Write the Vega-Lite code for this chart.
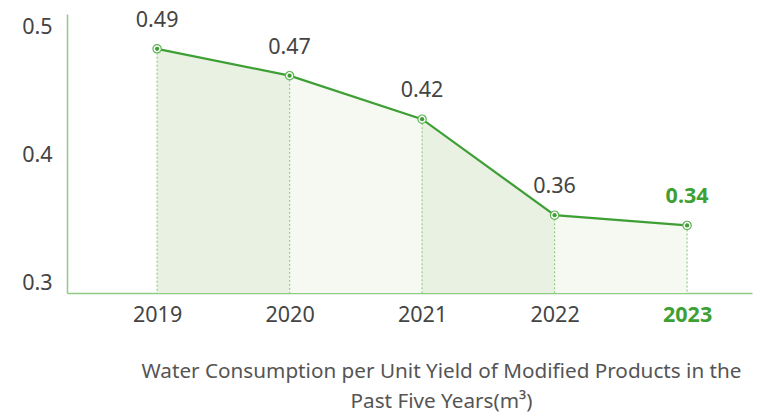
{
  "$schema": "https://vega.github.io/schema/vega-lite/v6.json",
  "width": 685,
  "height": 279,
  "autosize": "none",
  "padding": {"left": 67, "top": 14, "right": 15, "bottom": 124},
  "background": "white",
  "config": {"view": {"stroke": null}, "font": "Noto Sans"},
  "datasets": {
    "points": [
      {"year": 2019, "value": 0.483, "label": "0.49", "latest": "no"},
      {"year": 2020, "value": 0.462, "label": "0.47", "latest": "no"},
      {"year": 2021, "value": 0.428, "label": "0.42", "latest": "no"},
      {"year": 2022, "value": 0.353, "label": "0.36", "latest": "no"},
      {"year": 2023, "value": 0.345, "label": "0.34", "latest": "yes"}
    ],
    "segments": [
      {"seg": "a", "shade": "dark", "year": 2019, "value": 0.483},
      {"seg": "a", "shade": "dark", "year": 2020, "value": 0.462},
      {"seg": "b", "shade": "light", "year": 2020, "value": 0.462},
      {"seg": "b", "shade": "light", "year": 2021, "value": 0.428},
      {"seg": "c", "shade": "dark", "year": 2021, "value": 0.428},
      {"seg": "c", "shade": "dark", "year": 2022, "value": 0.353},
      {"seg": "d", "shade": "light", "year": 2022, "value": 0.353},
      {"seg": "d", "shade": "light", "year": 2023, "value": 0.345}
    ]
  },
  "layer": [
    {
      "data": {"name": "segments"},
      "mark": {"type": "area", "opacity": 1},
      "encoding": {
        "x": {"field": "year", "type": "quantitative"},
        "y": {"field": "value", "type": "quantitative"},
        "y2": {"datum": 0.2922},
        "detail": {"field": "seg"},
        "color": {"field": "shade", "type": "nominal", "scale": {"domain": ["dark", "light"], "range": ["#e9f1e2", "#f6f9f2"]}, "legend": null}
      }
    },
    {
      "data": {"name": "points"},
      "mark": {"type": "rule", "color": "#8fd083", "strokeDash": [2, 2], "strokeWidth": 1.2},
      "encoding": {
        "x": {"field": "year", "type": "quantitative"},
        "y": {"field": "value", "type": "quantitative"},
        "y2": {"datum": 0.2922}
      }
    },
    {
      "data": {"name": "points"},
      "mark": {"type": "line", "color": "#3d9f34", "strokeWidth": 2.2},
      "encoding": {
        "x": {
          "field": "year", "type": "quantitative",
          "scale": {"domain": [2018.32, 2023.49], "nice": false, "zero": false},
          "axis": {
            "values": [2019, 2020, 2021, 2022, 2023],
            "format": "d",
            "grid": false,
            "ticks": false,
            "domainColor": "#90cc84",
            "domainWidth": 1.5,
            "labelFontSize": 21.5,
            "labelColor": {"condition": {"test": "datum.value == 2023", "value": "#3d9f34"}, "value": "#444444"},
            "labelFontWeight": {"condition": {"test": "datum.value == 2023", "value": "bold"}, "value": "normal"},
            "labelPadding": 11,
            "title": ["Water Consumption per Unit Yield of Modified Products in the", "Past Five Years(m³)"],
            "titleFontSize": 20.7,
            "titleFontWeight": "normal",
            "titleColor": "#555555",
            "titleLineHeight": 30,
            "titleX": 374,
            "titleY": 68,
            "titleAlign": "center"
          }
        },
        "y": {
          "field": "value", "type": "quantitative",
          "scale": {"domain": [0.2922, 0.5102], "nice": false, "zero": false},
          "axis": {
            "values": [0.3, 0.4, 0.5],
            "format": ".1f",
            "grid": false,
            "ticks": false,
            "domainColor": "#90cc84",
            "domainWidth": 1.5,
            "labelFontSize": 21.5,
            "labelColor": "#444444",
            "labelPadding": 15,
            "title": null
          }
        }
      }
    },
    {
      "data": {"name": "points"},
      "mark": {"type": "point", "filled": true, "fill": "white", "stroke": "#5db352", "strokeWidth": 1.2, "size": 70, "opacity": 1},
      "encoding": {
        "x": {"field": "year", "type": "quantitative"},
        "y": {"field": "value", "type": "quantitative"}
      }
    },
    {
      "data": {"name": "points"},
      "mark": {"type": "point", "filled": true, "color": "#3d9f34", "size": 18, "opacity": 1},
      "encoding": {
        "x": {"field": "year", "type": "quantitative"},
        "y": {"field": "value", "type": "quantitative"}
      }
    },
    {
      "data": {"name": "points"},
      "transform": [{"filter": "datum.latest == 'no'"}],
      "mark": {"type": "text", "fontSize": 21.5, "dy": -28, "baseline": "middle", "color": "#444444"},
      "encoding": {
        "x": {"field": "year", "type": "quantitative"},
        "y": {"field": "value", "type": "quantitative"},
        "text": {"field": "label"}
      }
    },
    {
      "data": {"name": "points"},
      "transform": [{"filter": "datum.latest == 'yes'"}],
      "mark": {"type": "text", "fontSize": 21.5, "dy": -28, "baseline": "middle", "color": "#3d9f34", "fontWeight": "bold"},
      "encoding": {
        "x": {"field": "year", "type": "quantitative"},
        "y": {"field": "value", "type": "quantitative"},
        "text": {"field": "label"}
      }
    }
  ]
}
